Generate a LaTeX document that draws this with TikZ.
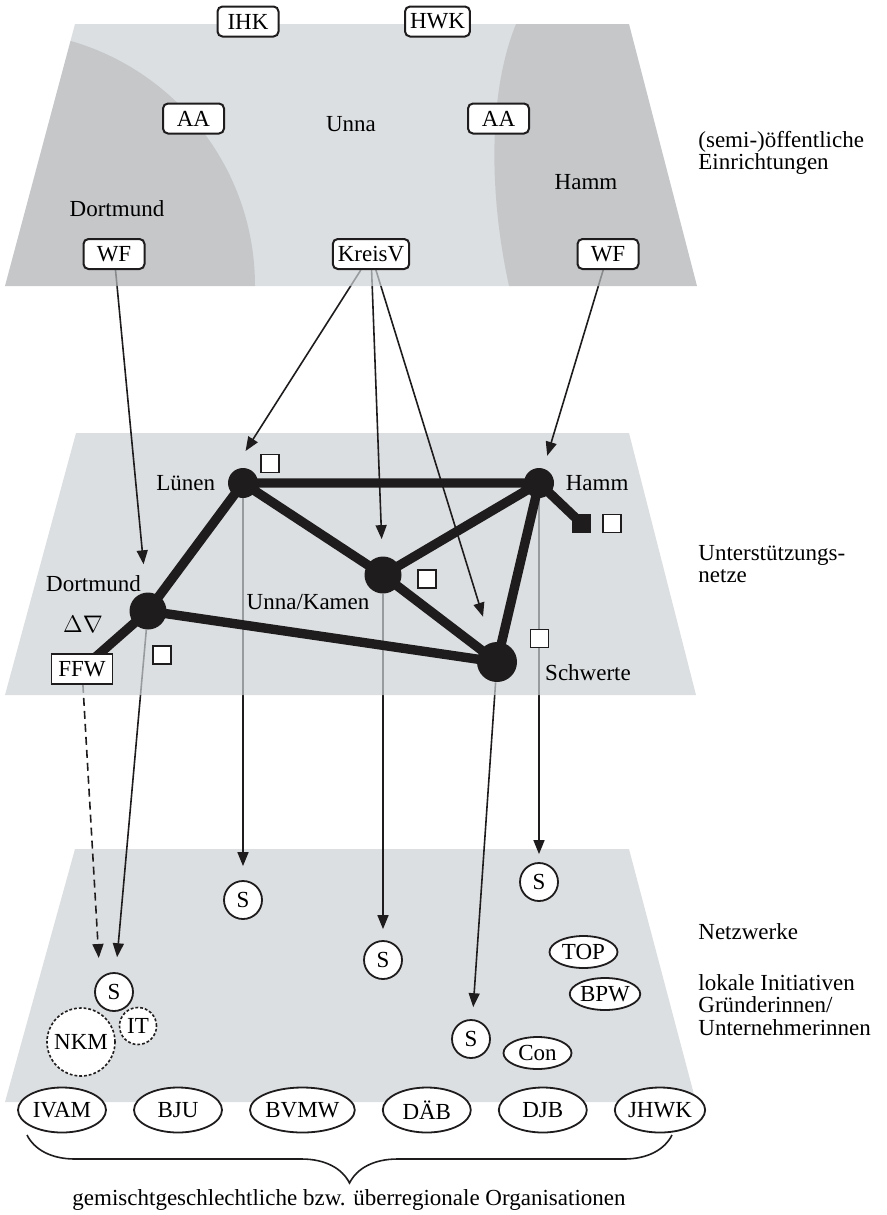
\documentclass[tikz,border=0pt]{standalone}
\usepackage{fontspec}
\setmainfont{Liberation Serif}
\usetikzlibrary{positioning,shapes.geometric,arrows.meta,decorations.pathreplacing}

\definecolor{panelgray}{RGB}{205,209,212}
\definecolor{ink}{RGB}{30,28,29}

\pgfdeclarelayer{lowpanel}
\pgfdeclarelayer{lowlines}
\pgfdeclarelayer{midpanel}
\pgfdeclarelayer{midlines}
\pgfdeclarelayer{toppanel}
\pgfdeclarelayer{net}
\pgfsetlayers{lowpanel,lowlines,midpanel,midlines,toppanel,net,main}

\begin{document}
\begin{tikzpicture}[
x=0.5pt, y=-0.5pt,
font=\fontsize{11.5}{11.2}\selectfont,
panel/.style={fill=panelgray, fill opacity=0.7},
shade/.style={fill=black, fill opacity=0.1},
lbl/.style={inner sep=0pt},
inst/.style={draw=ink, fill=white, rounded corners=2.5pt, line width=1pt, minimum width=30.5pt, minimum height=15pt, inner xsep=2.5pt, inner ysep=0pt},
plainbox/.style={draw=ink, fill=white, line width=0.9pt, minimum width=30.5pt, minimum height=15pt, inner xsep=2.5pt, inner ysep=0pt},
hub/.style={circle, fill=ink, inner sep=0pt},
flag/.style={draw=ink, fill=white, line width=0.9pt, inner sep=0pt, minimum size=9pt},
contact/.style={circle, draw=ink, fill=white, line width=0.9pt, inner sep=0pt, minimum size=19pt},
loose/.style={circle, draw=ink, fill=white, line width=0.8pt, dash pattern=on 1.4pt off 1pt, inner sep=0pt},
org/.style={ellipse, draw=ink, fill=white, line width=0.9pt, inner sep=0pt, minimum width=34pt, minimum height=16pt},
wide/.style={org, minimum width=44pt, minimum height=22.5pt},
link/.style={draw=ink, line width=4.7pt},
arrow/.style={-{Triangle[length=7pt,width=5.5pt]}, draw=ink, line width=0.8pt},
]

\useasboundingbox (0,0) rectangle (887,1215);

\node[inst] (ihk) at (248,21.5) {IHK};
\node[inst] (hwk) at (437.5,21.5) {HWK};
\node[inst] (aal) at (193.5,118.5) {AA};
\node[inst] (aar) at (498.5,118.5) {AA};
\node[inst] (wfl) at (114,254) {WF};
\node[inst] (kreisv) at (371,254) {KreisV};
\node[inst] (wfr) at (608,254) {WF};
\node[lbl] (tunna) at (351,124) {Unna};
\node[lbl] (tdortmund) at (117,209) {Dortmund};
\node[lbl] (thamm) at (586,182) {Hamm};

\node[hub, minimum size=15pt] (nl) at (243,483) {};
\node[hub, minimum size=15pt] (nh) at (539,483) {};
\node[hub, minimum size=18.5pt] (nd) at (148,611) {};
\node[hub, minimum size=18.5pt] (nu) at (383,575) {};
\node[hub, minimum size=20pt] (ns) at (497,662) {};
\node[plainbox] (ffw) at (82,669) {FFW};

\node[lbl] (tluenen) [left=6pt of nl] {Lünen};
\node[lbl] (thammnet) [right=5.5pt of nh] {Hamm};
\node[lbl] (tdortnet) at (93.5,584) {Dortmund};
\node[lbl] (tunnakamen) at (308,602) {Unna/Kamen};
\node[lbl] (tschwerte) at (588,673) {Schwerte};
\node[lbl] (gender) at (83,624) {$\Delta\nabla$};

\node[flag] (fl) at (270,463.5) {};
\node[flag] (fd) at (162,655) {};
\node[flag] (fu) at (427,579) {};
\node[flag] (fs) at (539.5,638.5) {};
\node[flag, fill=ink] (fhb) at (581.5,523.5) {};
\node[flag] (fh) [right=5.5pt of fhb] {};

\node[contact] (s1) at (243,900) {S};
\node[contact] (s2) at (539,882) {S};
\node[contact] (s3) at (383,960) {S};
\node[contact] (s4) at (471,1039) {S};
\node[contact] (s5) at (114,992) {S};
\node[loose, minimum size=34pt] (nkm) at (81,1042) {NKM};
\node[loose, minimum size=18.5pt] (it) at (138,1026) {IT};
\node[org] (top) at (583.5,952) {TOP};
\node[org] (bpw) at (605,994) {BPW};
\node[org] (con) at (537.5,1053) {Con};

\node[wide] (ivam) at (62,1110) {IVAM};
\node[wide] (bju) [right=13.1pt of ivam] {BJU};
\node[wide] (bvmw) [right=13.1pt of bju] {BVMW};
\node[wide] (daeb) [right=13.1pt of bvmw] {DÄB};
\node[wide] (djb) [right=13.1pt of daeb] {DJB};
\node[wide] (jhwk) [right=13.1pt of djb] {JHWK};

\node[lbl, anchor=west, align=left] (lev1) at (698,153) {(semi-)öffentliche\\Einrichtungen};
\node[lbl, anchor=west, align=left] (lev2) at (698,564) {Unterstützungs-\\netze};
\node[lbl, anchor=west] (lev3) at (698,932) {Netzwerke};
\node[lbl, anchor=west, align=left] (lev4) at (698,1005) {lokale Initiativen\\Gründerinnen/\\Unternehmerinnen};

\draw[ink, line width=0.8pt, decorate, decoration={brace, mirror, amplitude=24pt}] (27,1135) -- (672,1135);
\node[lbl] (caption) at (349,1200) {gemischtgeschlechtliche bzw. überregionale Organisationen};

\begin{pgfonlayer}{toppanel}
\fill[panel] (75,24) -- (629,24) -- (697,286) -- (5,286) -- cycle;
\begin{scope}
\clip (75,24) -- (629,24) -- (697,286) -- (5,286) -- cycle;
\fill[shade] (0,286) circle[radius=127.5pt];
\end{scope}
\fill[shade] (516,24) -- (629,24) -- (697,286) -- (509,286) .. controls (488,190) and (489,90) .. (516,24);
\end{pgfonlayer}

\begin{pgfonlayer}{midpanel}
\fill[panel] (76,433) -- (629,433) -- (696,695) -- (5,695) -- cycle;
\end{pgfonlayer}

\begin{pgfonlayer}{lowpanel}
\fill[panel] (75,849) -- (629,849) -- (696,1102) -- (5,1102) -- cycle;
\end{pgfonlayer}

\begin{pgfonlayer}{midlines}
\draw[arrow, shorten >=14pt] (wfl) -- (nd);
\draw[arrow, shorten >=12.5pt] (kreisv) -- (nl.north west);
\draw[arrow, shorten >=8.5pt] (kreisv) -- (nu);
\draw[arrow, shorten >=13.5pt] (kreisv) -- (ns);
\draw[arrow, shorten >=6.5pt] (wfr) -- (nh);
\end{pgfonlayer}

\begin{pgfonlayer}{lowlines}
\draw[arrow, shorten >=7pt] (nl) -- (s1);
\draw[arrow, shorten >=4pt] (nh) -- (s2);
\draw[arrow, shorten >=5.5pt] (nu) -- (s3);
\draw[arrow, shorten >=6pt] (ns) -- (s4);
\draw[arrow, shorten >=7.5pt] (nd) -- (s5);
\draw[arrow, dash pattern=on 4pt off 2.5pt, shorten >=10pt] (ffw) -- (s5.north west);
\end{pgfonlayer}

\begin{pgfonlayer}{net}
\draw[link] (nl.center) -- (nh.center) (nl.center) -- (nd.center) (nl.center) -- (nu.center)
  (nu.center) -- (nh.center) (nu.center) -- (ns.center) (nd.center) -- (ns.center)
  (nh.center) -- (ns.center) (nh.center) -- (fhb.center) (nd.center) -- (ffw.center);
\end{pgfonlayer}

\end{tikzpicture}
\end{document}
